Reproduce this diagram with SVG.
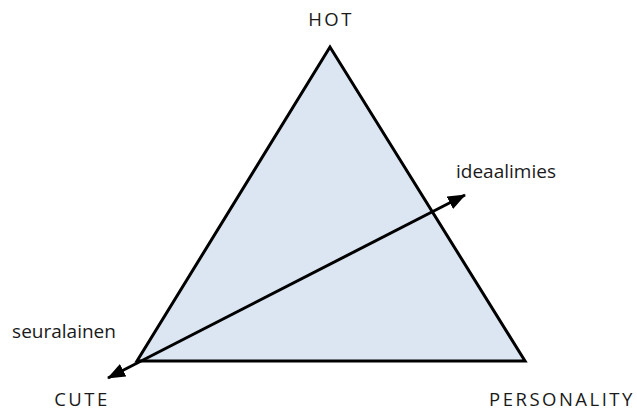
<svg xmlns="http://www.w3.org/2000/svg" width="637" height="412" viewBox="0 0 637 412">
<style>
.lbl{font-family:"Open Sans","Liberation Sans",sans-serif;font-size:19px;fill:#1a1a1a;}
.cap{letter-spacing:2.5px;font-size:18.5px;}
</style>
<defs>
<marker id="ah" markerWidth="18" markerHeight="14" refX="17" refY="7" orient="auto-start-reverse" markerUnits="userSpaceOnUse" viewBox="0 0 18 14">
<path d="M0,0 L18,7 L0,14 z" fill="#000"/>
</marker>
</defs>
<rect width="637" height="412" fill="#fff"/>
<g id="triangle">
<polygon points="330,47 137,361 525,361" fill="#dce6f2" stroke="#000" stroke-width="3" stroke-linejoin="miter"/>
</g>
<g id="connectors">
<line x1="108" y1="378" x2="465" y2="195" stroke="#000" stroke-width="3" marker-start="url(#ah)" marker-end="url(#ah)"/>
</g>
<g id="hot"><text class="lbl cap" x="331" y="26" text-anchor="middle">HOT</text></g>
<g id="cute"><text class="lbl cap" x="82" y="406" text-anchor="middle">CUTE</text></g>
<g id="personality"><text class="lbl cap" x="562" y="406" text-anchor="middle">PERSONALITY</text></g>
<g id="ideaalimies"><text class="lbl" x="506" y="178" text-anchor="middle">ideaalimies</text></g>
<g id="seuralainen"><text class="lbl" x="64" y="338" text-anchor="middle">seuralainen</text></g>
</svg>
